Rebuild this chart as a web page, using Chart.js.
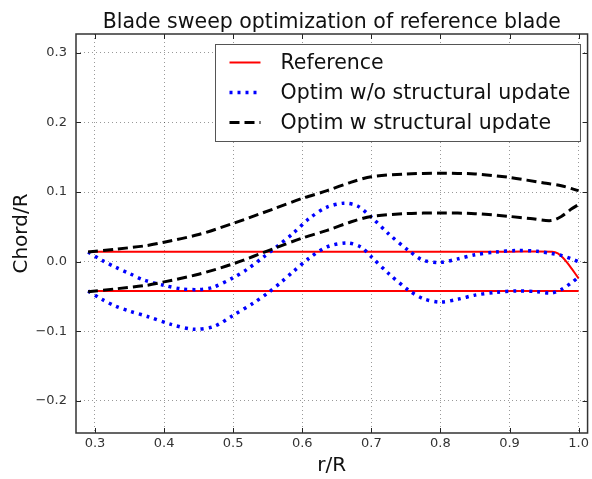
<!DOCTYPE html>
<html>
<head>
<meta charset="utf-8">
<script src="https://cdn.jsdelivr.net/npm/chart.js@4/dist/chart.umd.min.js"></script>
<style>html,body{margin:0;padding:0;background:#fff}canvas{display:block}</style>
</head>
<body>
<canvas id="c" width="592" height="479"></canvas>
<script>
// ---- tick labels ----
const xTicks = [0.3, 0.4, 0.5, 0.6, 0.7, 0.8, 0.9, 1.0];
const yTicks = [-0.2, -0.1, 0.0, 0.1, 0.2, 0.3];

// ---- Reference blade ----
const refUpR = [0.29, 0.5, 0.7, 0.9, 0.962, 0.97, 0.977, 0.984, 0.99, 1.0];
const refUpC = [0.0144, 0.0144, 0.0144, 0.0144, 0.0144, 0.012, 0.006, -0.002, -0.010, -0.024];
const refLoR = [0.29, 0.5, 0.7, 0.9, 1.0];
const refLoC = [-0.042, -0.042, -0.042, -0.042, -0.042];

// ---- Optim w/o structural update ----
const woUpR = [0.29, 0.31, 0.33, 0.35, 0.37, 0.40, 0.425, 0.45, 0.47, 0.50, 0.52, 0.543, 0.566, 0.586, 0.61, 0.635, 0.66, 0.68, 0.70, 0.725, 0.754, 0.775, 0.80, 0.825, 0.85, 0.88, 0.91, 0.94, 0.96, 0.975, 0.99, 1.0];
const woUpC = [0.014, 0.002, -0.008, -0.017, -0.026, -0.034, -0.039, -0.040, -0.037, -0.023, -0.011, 0.006, 0.024, 0.040, 0.062, 0.078, 0.084, 0.080, 0.064, 0.040, 0.016, 0.002, -0.001, 0.004, 0.010, 0.014, 0.016, 0.015, 0.012, 0.009, 0.004, 0.000];
const woLoR = [0.29, 0.31, 0.33, 0.35, 0.377, 0.41, 0.443, 0.472, 0.50, 0.53, 0.55, 0.57, 0.586, 0.61, 0.635, 0.665, 0.685, 0.70, 0.725, 0.754, 0.775, 0.80, 0.825, 0.85, 0.88, 0.91, 0.94, 0.96, 0.975, 0.99, 1.0];
const woLoC = [-0.042, -0.054, -0.064, -0.071, -0.079, -0.090, -0.097, -0.093, -0.077, -0.059, -0.045, -0.029, -0.015, 0.005, 0.021, 0.027, 0.021, 0.007, -0.017, -0.041, -0.053, -0.058, -0.054, -0.048, -0.044, -0.042, -0.043, -0.045, -0.040, -0.030, -0.022];

// ---- Optim w structural update ----
const wUpR = [0.29, 0.33, 0.374, 0.40, 0.45, 0.50, 0.559, 0.60, 0.636, 0.67, 0.70, 0.75, 0.80, 0.85, 0.90, 0.95, 0.975, 1.0];
const wUpC = [0.014, 0.018, 0.023, 0.028, 0.039, 0.055, 0.076, 0.091, 0.102, 0.114, 0.122, 0.126, 0.127, 0.126, 0.121, 0.113, 0.109, 0.102];
const wLoR = [0.29, 0.33, 0.374, 0.40, 0.45, 0.50, 0.559, 0.60, 0.636, 0.67, 0.70, 0.75, 0.80, 0.85, 0.90, 0.93, 0.96, 0.975, 0.99, 1.0];
const wLoC = [-0.043, -0.039, -0.034, -0.029, -0.018, -0.003, 0.019, 0.034, 0.045, 0.057, 0.065, 0.069, 0.070, 0.069, 0.065, 0.062, 0.059, 0.065, 0.076, 0.082];

const seriesLabels = ['Reference', 'Optim w/o structural update', 'Optim w structural update'];

const pts = (xs, ys) => xs.map((x, i) => ({x: x, y: ys[i]}));
const FONT = '"DejaVu Sans", sans-serif';

const styleRef = {borderColor: '#ff0000', borderWidth: 2, borderDash: [], order: 2};
const styleWo = {borderColor: '#0000ff', borderWidth: 3.5, borderDash: [3, 5], order: 1};
const styleW = {borderColor: '#000000', borderWidth: 3, borderDash: [10, 5], order: 0};

function ds(label, data, style, showInLegend) {
  return Object.assign({
    label: label, data: data, showLine: true, fill: false,
    pointRadius: 0, pointHoverRadius: 0, tension: 0.3,
    legendEntry: showInLegend
  }, style);
}

const datasets = [
  ds(seriesLabels[0], pts(refUpR, refUpC), styleRef, true),
  ds(seriesLabels[0], pts(refLoR, refLoC), styleRef, false),
  ds(seriesLabels[1], pts(woUpR, woUpC), styleWo, true),
  ds(seriesLabels[1], pts(woLoR, woLoC), styleWo, false),
  ds(seriesLabels[2], pts(wUpR, wUpC), styleW, true),
  ds(seriesLabels[2], pts(wLoR, wLoC), styleW, false)
];

const fmt = v => {
  const s = (Math.abs(v) < 1e-9 ? 0 : v).toFixed(1);
  return s.replace('-', '\u2212');
};

const decorPlugin = {
  id: 'decor',
  afterDraw(chart) {
    const {ctx, chartArea: a, scales} = chart;
    const x = scales.x, y = scales.y;
    ctx.save();
    // inward tick marks
    ctx.strokeStyle = '#222';
    ctx.lineWidth = 1;
    ctx.setLineDash([]);
    ctx.beginPath();
    x.ticks.forEach(t => {
      const px = Math.round(x.getPixelForValue(t.value)) + 0.5;
      ctx.moveTo(px, a.bottom); ctx.lineTo(px, a.bottom - 5);
      ctx.moveTo(px, a.top); ctx.lineTo(px, a.top + 5);
    });
    y.ticks.forEach(t => {
      const py = Math.round(y.getPixelForValue(t.value)) + 0.5;
      ctx.moveTo(a.left, py); ctx.lineTo(a.left + 5, py);
      ctx.moveTo(a.right, py); ctx.lineTo(a.right - 5, py);
    });
    ctx.stroke();
    // frame
    ctx.strokeStyle = '#333';
    ctx.lineWidth = 1.5;
    ctx.strokeRect(a.left, a.top, a.right - a.left, a.bottom - a.top);

    // legend
    ctx.font = '20.5px ' + FONT;
    const entries = chart.data.datasets.filter(d => d.legendEntry);
    const textW = Math.max(...entries.map(d => ctx.measureText(d.label).width));
    const boxW = 14 + 31 + 20 + textW + 10;
    const boxH = 97;
    const bx = Math.round(a.right - 8 - boxW) + 0.5;
    const by = a.top + 10.5;
    ctx.fillStyle = '#fff';
    ctx.fillRect(bx, by, boxW, boxH);
    ctx.strokeStyle = '#555';
    ctx.lineWidth = 1;
    ctx.strokeRect(bx, by, boxW, boxH);
    entries.forEach((d, i) => {
      const cy = by + 18 + i * 30;
      ctx.save();
      ctx.strokeStyle = d.borderColor;
      ctx.lineWidth = d.borderWidth;
      ctx.setLineDash(d.borderDash || []);
      ctx.beginPath();
      ctx.moveTo(bx + 14, cy);
      ctx.lineTo(bx + 45, cy);
      ctx.stroke();
      ctx.restore();
      ctx.fillStyle = '#111';
      ctx.textBaseline = 'middle';
      ctx.textAlign = 'left';
      ctx.fillText(d.label, bx + 65, cy + 1);
    });

    // title
    ctx.fillStyle = '#111';
    ctx.font = '20.5px ' + FONT;
    ctx.textAlign = 'center';
    ctx.textBaseline = 'alphabetic';
    ctx.fillText('Blade sweep optimization of reference blade', (a.left + a.right) / 2, 28);
    ctx.restore();
  }
};

new Chart(document.getElementById('c'), {
  type: 'scatter',
  data: {datasets: datasets},
  options: {
    responsive: false,
    animation: false,
    events: [],
    layout: {padding: {top: 34, right: 4, left: 0, bottom: 0}},
    plugins: {legend: {display: false}, title: {display: false}, tooltip: {enabled: false}},
    scales: {
      x: {
        type: 'linear', min: 0.2725, max: 1.013,
        afterBuildTicks: s => { s.ticks = xTicks.map(v => ({value: v})); },
        afterFit: s => { s.height = 46; },
        ticks: {autoSkip: false, maxRotation: 0, padding: 3, color: '#333', font: {family: FONT, size: 13}, callback: v => fmt(v)},
        grid: {color: 'rgba(0,0,0,0.4)', lineWidth: 1, drawTicks: false},
        border: {display: false, dash: [1, 3]},
        title: {display: true, text: 'r/R', color: '#111', font: {family: FONT, size: 20}, padding: {top: 0, bottom: 1}}
      },
      y: {
        type: 'linear', min: -0.246, max: 0.327,
        afterBuildTicks: s => { s.ticks = yTicks.map(v => ({value: v})); },
        afterFit: s => { s.width = 76; },
        ticks: {padding: 9, color: '#333', font: {family: FONT, size: 13}, callback: v => fmt(v)},
        grid: {color: 'rgba(0,0,0,0.4)', lineWidth: 1, drawTicks: false},
        border: {display: false, dash: [1, 3]},
        title: {display: true, text: 'Chord/R', color: '#111', font: {family: FONT, size: 20}, padding: {top: 10, bottom: 0}}
      }
    }
  },
  plugins: [decorPlugin]
});
</script>
</body>
</html>
